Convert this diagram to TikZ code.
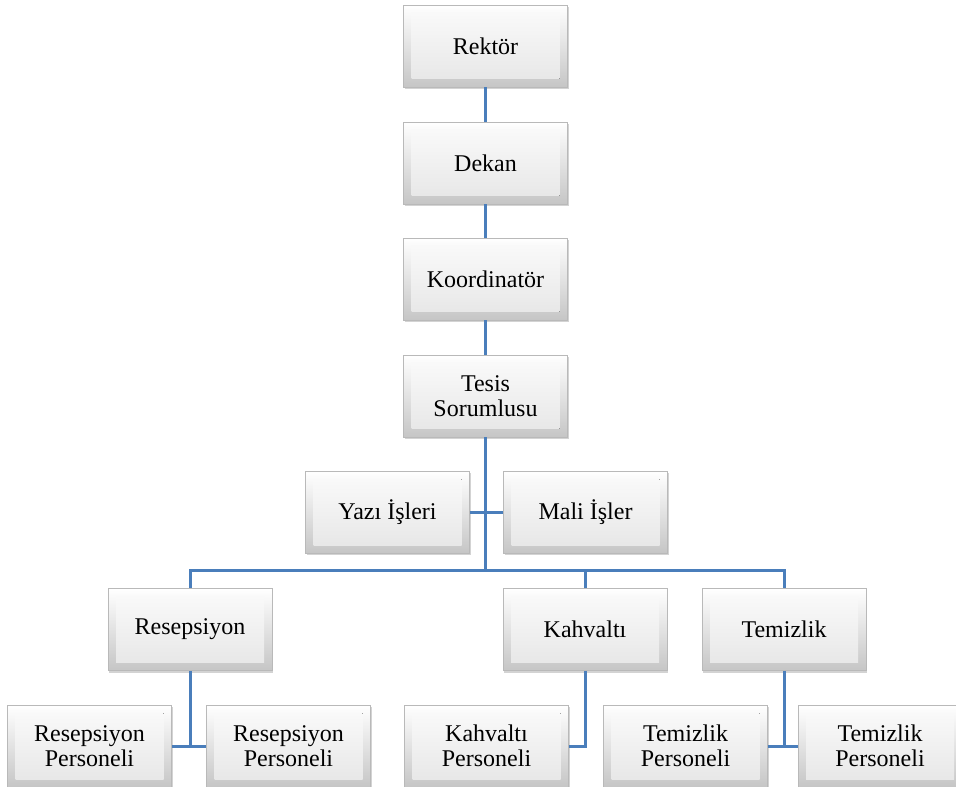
\documentclass[tikz,border=0pt]{standalone}
\usepackage{fontspec}
\setmainfont{Liberation Serif}
\usetikzlibrary{shadows}
\definecolor{linkblue}{RGB}{74,126,187}
\tikzset{every picture/.style={line width=0.75pt}}
\tikzset{
  orgbox/.style={rectangle, minimum width=123pt, minimum height=61.5pt, inner sep=0pt,
    align=center, font=\fontsize{18}{19}\selectfont,
    draw={rgb,255:red,185;green,185;blue,185}, line width=0.5pt,
    top color=white, bottom color=gray!45,
    drop shadow={opacity=0.35, shadow xshift=1pt, shadow yshift=-1.8pt},
    path picture={\fill[top color=gray!3, bottom color=gray!20]
      ([shift={(6pt,-6pt)}]path picture bounding box.north west) rectangle
      ([shift={(-6pt,6pt)}]path picture bounding box.south east);}},
  orglink/.style={color=linkblue, line width=2.25pt}
}

\begin{document}
\begin{tikzpicture}[x=0.75pt,y=0.75pt,yscale=-1,xscale=1]
\useasboundingbox (0,0) rectangle (956,787);

%Shape: Rectangle
\node [orgbox] (rektor) at (485.5,46) {Rektör};
\node [orgbox] (dekan) at (485.5,163) {Dekan};
\node [orgbox] (koord) at (485.5,279) {Koordinatör};
\node [orgbox] (tesis) at (485.5,396) {Tesis\\Sorumlusu};
\node [orgbox] (yazi) at (387.5,512) {Yazı İşleri};
\node [orgbox] (mali) at (585.5,512) {Mali İşler};
\node [orgbox] (resep) at (190,629.5) {Resepsiyon};
\node [orgbox] (kahv) at (585,629.5) {Kahvaltı};
\node [orgbox] (temiz) at (784,629.5) {Temizlik};
\node [orgbox] (resepA) at (89.5,746) {Resepsiyon\\Personeli};
\node [orgbox] (resepB) at (288.5,746) {Resepsiyon\\Personeli};
\node [orgbox] (kahvA) at (486.5,746) {Kahvaltı\\Personeli};
\node [orgbox] (temizA) at (685.5,746) {Temizlik\\Personeli};
\node [orgbox] (temizB) at (880,746) {Temizlik\\Personeli};

%Straight Lines
\coordinate (bus) at (485.5,570);
\draw [orglink] (rektor) -- (dekan);
\draw [orglink] (dekan) -- (koord);
\draw [orglink] (koord) -- (tesis);
\draw [orglink] (tesis) -- (bus);
\draw [orglink] (yazi) -- (mali);
\draw [orglink] (resep) -- (resep.north |- bus) -- (temiz.north |- bus) -- (temiz);
\draw [orglink] (kahv) -- (kahv.north |- bus);
%Straight Lines
\draw [orglink] (resep) -- (resep.south |- resepA.east);
\draw [orglink] (resepA) -- (resepB);
\draw [orglink] (kahv) -- (kahv.south |- kahvA.east) -- (kahvA);
\draw [orglink] (temiz) -- (temiz.south |- temizA.east);
\draw [orglink] (temizA) -- (temizB);

\end{tikzpicture}
\end{document}
